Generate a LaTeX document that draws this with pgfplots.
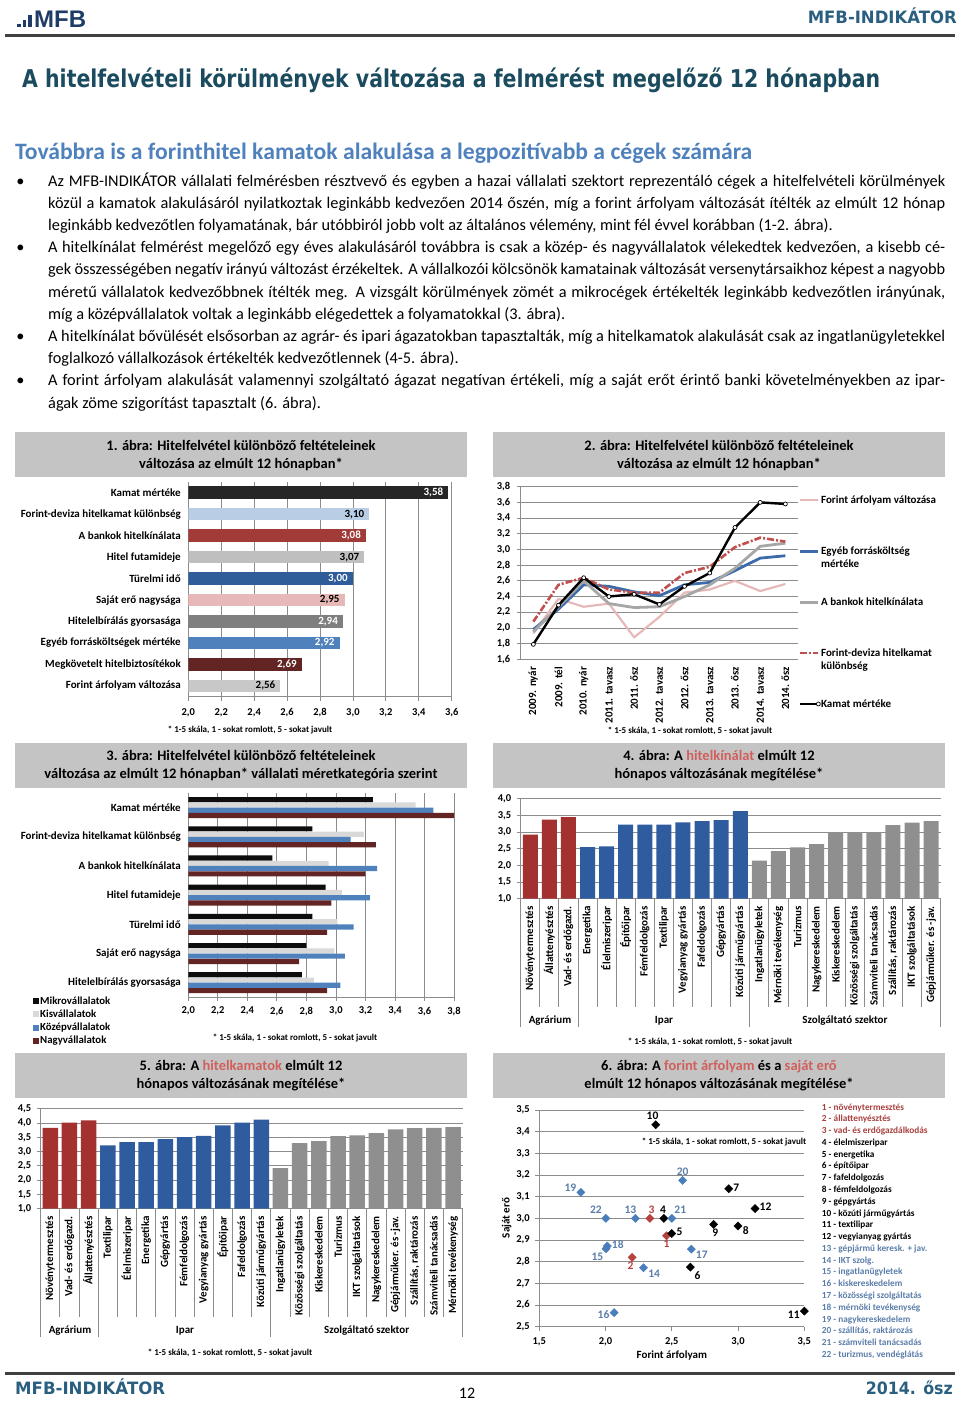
\documentclass[border=0pt]{standalone}
\usepackage{fontspec}
\usepackage{graphicx}
\usepackage{pgfplots}
\usepackage{pgfplotstable}
\pgfplotsset{compat=1.18}
\setmainfont{Carlito}
\newfontfamily\djv{DejaVu Sans}
\newfontfamily\lsans{Liberation Sans}

\definecolor{ttl}{HTML}{1B4B5E}
\definecolor{hdr}{HTML}{2A5F80}
\definecolor{logo}{HTML}{1F3C66}
\definecolor{sub}{HTML}{4F81BD}
\definecolor{boxg}{HTML}{C4C4C4}
\definecolor{hl}{HTML}{D0605D}
\definecolor{gridg}{HTML}{8C8C8C}
\definecolor{axg}{HTML}{8C8C8C}
\definecolor{cA}{HTML}{262626}
\definecolor{cB}{HTML}{B9CDE5}
\definecolor{cC}{HTML}{A03B38}
\definecolor{cD}{HTML}{BFBFBF}
\definecolor{cE}{HTML}{2F5D9A}
\definecolor{cF}{HTML}{E6B9B8}
\definecolor{cG}{HTML}{7F7F7F}
\definecolor{cH}{HTML}{4F81BD}
\definecolor{cI}{HTML}{632523}
\definecolor{cJ}{HTML}{C8C8C8}
\definecolor{agr}{HTML}{A3312F}
\definecolor{ipr}{HTML}{2E5C9E}
\definecolor{szg}{HTML}{8F8F8F}
\definecolor{kis}{HTML}{D9D9D9}
\definecolor{lred}{HTML}{C0504D}
\definecolor{lblue}{HTML}{3B6BAA}
\definecolor{lgray}{HTML}{A6A6A6}
\definecolor{sred}{HTML}{B5423F}
\definecolor{sblue}{HTML}{4A7EBB}
\definecolor{sbluet}{HTML}{5B7DAA}
\definecolor{lred2}{HTML}{A8403D}

\newcommand\fTick{\bfseries\fontsize{10.5}{12}\selectfont}
\newcommand\fCat{\bfseries\fontsize{11}{13}\selectfont}
\newcommand\fFoot{\bfseries\fontsize{9}{11}\selectfont}
\newcommand\fBox{\bfseries\fontsize{14.5}{17.3}\selectfont}
\newcommand\fPt{\bfseries\fontsize{11.5}{13}\selectfont}
\newcommand\fLeg{\bfseries\fontsize{9.3}{11}\selectfont}
\newcommand\fBody{\fontsize{16.3}{22.2}\selectfont}
\newcommand\jline[2]{\node[anchor=base west,inner sep=0] at (48,-#1) {\fBody\makebox[897pt][s]{#2}};}
\newcommand\lline[2]{\node[anchor=base west,inner sep=0] at (48,-#1) {\fBody #2};}
\newcommand\bull[1]{\node[anchor=base,inner sep=0] at (20.5,-#1) {\fBody\textbullet};}
\newcommand\legtxt[1]{\rule[-3pt]{0pt}{11pt}\smash{\parbox[t]{140pt}{\raggedright #1}}}
\newcommand\fnote{* 1-5 skála, 1 - sokat romlott, 5 - sokat javult}

\pgfplotsset{
  base/.style={
    scale only axis,
    axis lines*=left,
    axis line style={draw=axg, line width=0.8pt},
    tick style={draw=axg, line width=0.8pt},
    major grid style={draw=gridg, line width=0.8pt},
    ticklabel style={font=\fTick},
    tick align=outside,
    major tick length=4pt,
    /pgf/number format/use comma,
    /pgf/number format/fixed,
    /pgf/number format/fixed zerofill,
    /pgf/number format/precision=1,
    /pgf/number format/assume math mode=true,
  },
  wl/.style={every node near coord/.append style={text=white}},
  lineleg/.style={legend image code/.code={\draw[##1] (0pt,0pt) -- (18pt,0pt);}},
  markleg/.style={legend image code/.code={\draw[##1,mark repeat=3,mark phase=3] plot coordinates {(0pt,0pt) (9pt,0pt) (18pt,0pt)};}},
  sqleg/.style={legend image code/.code={\draw[##1,draw=none] (0pt,-3pt) rectangle (6pt,3pt);}},
}

\begin{document}
\begin{tikzpicture}[x=1pt,y=1pt]
\path[use as bounding box] (0,0) rectangle (960,-1401);

% ---------- header ----------
\fill[logo] (17,-27) rectangle (20.5,-23.5);
\fill[logo] (22.5,-27) rectangle (26,-20);
\fill[logo] (28,-27) rectangle (31.5,-15);
\node[anchor=base west,inner sep=0,text=logo] at (34,-27) {\lsans\bfseries\fontsize{24}{26}\selectfont MFB};
\node[anchor=base east,inner sep=0,text=hdr] at (957,-23) {\resizebox{149pt}{\height}{\djv\bfseries\fontsize{17}{20}\selectfont MFB-INDIKÁTOR}};
\fill[black!75] (5,-33.5) rectangle (955,-36.5);

\node[anchor=base west,inner sep=0,text=ttl] at (22,-87) {\resizebox{858pt}{\height}{\djv\bfseries\fontsize{24.5}{28}\selectfont A hitelfelvételi körülmények változása a felmérést megelőző 12 hónapban}};
\node[anchor=base west,inner sep=0,text=sub] at (15,-159) {\resizebox{737pt}{\height}{\bfseries\fontsize{23.5}{27}\selectfont Továbbra is a forinthitel kamatok alakulása a legpozitívabb a cégek számára}};

% ---------- body ----------
\bull{186}
\jline{186}{Az MFB-INDIKÁTOR vállalati felmérésben résztvevő és egyben a hazai vállalati szektort reprezentáló cégek a hitelfelvételi körülmények}
\jline{208.2}{közül a kamatok alakulásáról nyilatkoztak leginkább kedvezően 2014 őszén, míg a forint árfolyam változását ítélték az elmúlt 12 hónap}
\lline{230.4}{leginkább kedvezőtlen folyamatának, bár utóbbiról jobb volt az általános vélemény, mint fél évvel korábban (1-2. ábra).}
\bull{252.6}
\jline{252.6}{A hitelkínálat felmérést megelőző egy éves alakulásáról továbbra is csak a közép- és nagyvállalatok vélekedtek kedvezően, a kisebb cé-}
\jline{274.8}{gek összességében negatív irányú változást érzékeltek. A vállalkozói kölcsönök kamatainak változását versenytársaikhoz képest a nagyobb}
\jline{297}{méretű vállalatok kedvezőbbnek ítélték meg. A vizsgált körülmények zömét a mikrocégek értékelték leginkább kedvezőtlen irányúnak,}
\lline{319.2}{míg a középvállalatok voltak a leginkább elégedettek a folyamatokkal (3. ábra).}
\bull{341.4}
\jline{341.4}{A hitelkínálat bővülését elsősorban az agrár- és ipari ágazatokban tapasztalták, míg a hitelkamatok alakulását csak az ingatlanügyletekkel}
\lline{363.6}{foglalkozó vállalkozások értékelték kedvezőtlennek (4-5. ábra).}
\bull{385.8}
\jline{385.8}{A forint árfolyam alakulását valamennyi szolgáltató ágazat negatívan értékeli, míg a saját erőt érintő banki követelményekben az ipar-}
\lline{408}{ágak zöme szigorítást tapasztalt (6. ábra).}

% ---------- title boxes ----------
\fill[boxg] (15,-431.7) rectangle (466.7,-476.7);
\node[align=center,font=\fBox] at (241,-455.5) {1. ábra: Hitelfelvétel különböző feltételeinek\\változása az elmúlt 12 hónapban*};
\fill[boxg] (492.7,-431.7) rectangle (945,-476.7);
\node[align=center,font=\fBox] at (719,-455.5) {2. ábra: Hitelfelvétel különböző feltételeinek\\változása az elmúlt 12 hónapban*};
\fill[boxg] (15,-742.5) rectangle (466.7,-787.5);
\node[align=center,font=\fBox] at (241,-765.5) {3. ábra: Hitelfelvétel különböző feltételeinek\\változása az elmúlt 12 hónapban* vállalati méretkategória szerint};
\fill[boxg] (492.7,-742.5) rectangle (945,-787.5);
\node[align=center,font=\fBox] at (719,-765.5) {4. ábra: A \textcolor{hl}{hitelkínálat} elmúlt 12\\hónapos változásának megítélése*};
\fill[boxg] (15,-1052.5) rectangle (466.7,-1097.5);
\node[align=center,font=\fBox] at (241,-1075.5) {5. ábra: A \textcolor{hl}{hitelkamatok} elmúlt 12\\hónapos változásának megítélése*};
\fill[boxg] (492.7,-1052.5) rectangle (945,-1097.5);
\node[align=center,font=\fBox] at (719,-1075.5) {6. ábra: A \textcolor{hl}{forint árfolyam} és a \textcolor{hl}{saját erő}\\elmúlt 12 hónapos változásának megítélése*};

% ---------- chart 1 ----------
\begin{axis}[base, at={(188.3pt,-696.7pt)}, anchor=south west, width=263.4pt, height=214.7pt,
  xmin=2, xmax=3.6, xtick={2,2.2,2.4,2.6,2.8,3,3.2,3.4,3.6}, xmajorgrids,
  xticklabel style={yshift=-4pt},
  ymin=-0.5, ymax=9.5, ytick={0,...,9},
  yticklabels={Forint árfolyam változása, Megkövetelt hitelbiztosítékok, Egyéb forrásköltségek mértéke, Hitelelbírálás gyorsasága, Saját erő nagysága, Türelmi idő, Hitel futamideje, A bankok hitelkínálata, Forint-deviza hitelkamat különbség, Kamat mértéke},
  yticklabel style={font=\fCat},
  major y tick style={draw=none},
  xbar, bar width=12.5pt, bar shift=0pt,
  point meta=x,
  nodes near coords={\pgfmathprintnumber[fixed,fixed zerofill,precision=2,use comma]{\pgfplotspointmeta}},
  every node near coord/.append style={anchor=east, font=\fCat, inner sep=1pt, xshift=-4pt, text=black},
]
\addplot[fill=cA, draw=none, wl] coordinates {(3.58,9)};
\addplot[fill=cB, draw=none] coordinates {(3.10,8)};
\addplot[fill=cC, draw=none, wl] coordinates {(3.08,7)};
\addplot[fill=cD, draw=none] coordinates {(3.07,6)};
\addplot[fill=cE, draw=none, wl] coordinates {(3.00,5)};
\addplot[fill=cF, draw=none] coordinates {(2.95,4)};
\addplot[fill=cG, draw=none, wl] coordinates {(2.94,3)};
\addplot[fill=cH, draw=none, wl] coordinates {(2.92,2)};
\addplot[fill=cI, draw=none, wl] coordinates {(2.69,1)};
\addplot[fill=cJ, draw=none] coordinates {(2.56,0)};
\end{axis}
\node[font=\fFoot] at (250,-730) {\fnote};

% ---------- chart 2 ----------
\begin{axis}[base, at={(520.7pt,-659.3pt)}, anchor=south west, width=277.3pt, height=172.6pt,
  xmin=-0.5, xmax=10.5, ymin=1.6, ymax=3.8,
  ytick={1.6,1.8,2.0,2.2,2.4,2.6,2.8,3.0,3.2,3.4,3.6,3.8}, ymajorgrids,
  yticklabel style={xshift=-3pt},
  xtick={0,...,10},
  xticklabels={2009. nyár, 2009. tél, 2010. nyár, 2011. tavasz, 2011. ősz, 2012. tavasz, 2012. ősz, 2013. tavasz, 2013. ősz, 2014. tavasz, 2014. ősz},
  xticklabel style={rotate=90, anchor=east, font=\fCat},
  major x tick style={draw=none},
  legend style={at={(axis description cs:1.0036,0.9525)}, anchor=north west, draw=none, fill=none, inner sep=0pt, outer sep=0pt, row sep=40pt, nodes={inner sep=0.7pt}, font=\fCat},
  legend cell align=left,
  lineleg,
]
\addplot[cF, line width=2.2pt, line join=round] coordinates {(0,1.93)(1,2.37)(2,2.27)(3,2.31)(4,1.88)(5,2.14)(6,2.45)(7,2.49)(8,2.60)(9,2.47)(10,2.56)};
\addlegendentry{\legtxt{Forint árfolyam változása}}
\addplot[lblue, line width=2.8pt, line join=round] coordinates {(0,1.98)(1,2.24)(2,2.55)(3,2.53)(4,2.46)(5,2.41)(6,2.55)(7,2.58)(8,2.73)(9,2.89)(10,2.92)};
\addlegendentry{\legtxt{Egyéb forrásköltség\\mértéke}}
\addplot[lgray, line width=2.8pt, line join=round] coordinates {(0,1.95)(1,2.27)(2,2.60)(3,2.31)(4,2.26)(5,2.27)(6,2.40)(7,2.55)(8,2.76)(9,3.04)(10,3.08)};
\addlegendentry{\legtxt{A bankok hitelkínálata}}
\addplot[lred, line width=2.6pt, line join=round, dash pattern=on 7pt off 2pt on 2pt off 2pt] coordinates {(0,2.08)(1,2.55)(2,2.64)(3,2.49)(4,2.45)(5,2.45)(6,2.70)(7,2.78)(8,3.03)(9,3.15)(10,3.10)};
\addlegendentry{\legtxt{Forint-deviza hitelkamat\\különbség}}
\addplot[black, line width=2.4pt, line join=round, mark=*, mark size=2pt, mark options={fill=white, draw=black, line width=0.7pt}, markleg]
  coordinates {(0,1.79)(1,2.29)(2,2.64)(3,2.40)(4,2.43)(5,2.30)(6,2.53)(7,2.70)(8,3.28)(9,3.60)(10,3.58)};
\addlegendentry{\legtxt{Kamat mértéke}}
\end{axis}
\node[font=\fFoot] at (690,-731) {\fnote};

% ---------- chart 3 ----------
\begin{axis}[base, at={(188.3pt,-997.3pt)}, anchor=south west, width=265.7pt, height=204.3pt,
  xmin=2, xmax=3.8, xtick={2,2.2,2.4,2.6,2.8,3,3.2,3.4,3.6,3.8}, xmajorgrids,
  xticklabel style={yshift=-2pt},
  ymin=-0.5, ymax=6.5, ytick={0,...,6},
  yticklabels={Hitelelbírálás gyorsasága, Saját erő nagysága, Türelmi idő, Hitel futamideje, A bankok hitelkínálata, Forint-deviza hitelkamat különbség, Kamat mértéke},
  yticklabel style={font=\fCat},
  major y tick style={draw=none},
  xbar, bar width=5.2pt,
  legend style={at={(axis description cs:-0.5845,0.010)}, anchor=north west, draw=none, fill=none, inner sep=0pt, row sep=2.2pt, nodes={inner sep=1pt}, font=\bfseries\fontsize{10.8}{12}\selectfont},
  legend cell align=left,
  sqleg,
]
\addplot[fill=black!95, draw=none, bar shift=7.9pt] coordinates {(3.25,6)(2.84,5)(2.57,4)(2.93,3)(2.84,2)(2.80,1)(2.77,0)};
\addlegendentry{Mikrovállalatok}
\addplot[fill=kis, draw=none, bar shift=2.6pt] coordinates {(3.54,6)(3.19,5)(2.95,4)(3.04,3)(3.01,2)(2.99,1)(2.85,0)};
\addlegendentry{Kisvállalatok}
\addplot[fill=cH, draw=none, bar shift=-2.6pt] coordinates {(3.66,6)(3.10,5)(3.28,4)(3.23,3)(3.12,2)(3.06,1)(3.03,0)};
\addlegendentry{Középvállalatok}
\addplot[fill=cI, draw=none, bar shift=-7.9pt] coordinates {(3.80,6)(3.27,5)(3.20,4)(2.97,3)(2.94,2)(2.75,1)(2.94,0)};
\addlegendentry{Nagyvállalatok}
\end{axis}
\node[font=\fFoot] at (295,-1038) {\fnote};

% ---------- chart 4 ----------
\begin{axis}[base, at={(520.7pt,-898.7pt)}, anchor=south west, width=420pt, height=100pt,
  xmin=-0.5, xmax=21.5, ymin=1, ymax=4, ytick={1,1.5,2,2.5,3,3.5,4}, ymajorgrids,
  yticklabel style={xshift=-2pt},
  xtick={0,...,21},
  xticklabels={Növénytermesztés, Állattenyésztés, Vad- és erdőgazd., Energetika, Élelmiszeripar, Építőipar, Fémfeldolgozás, Textilipar, Vegyianyag gyártás, Fafeldolgozás, Gépgyártás, Közúti járműgyártás, Ingatlanügyletek, Mérnöki tevékenység, Turizmus, Nagykereskedelem, Kiskereskedelem, Közösségi szolgáltatás, Számviteli tanácsadás, {Szállítás, raktározás}, IKT szolgáltatások, Gépjárműker. és -jav.},
  xticklabel style={rotate=90, anchor=east, font=\fCat},
  major x tick style={draw=none},
  ybar, bar width=15pt, bar shift=0pt,
]
\addplot[fill=agr, draw=none] coordinates {(0,2.92)(1,3.37)(2,3.45)};
\addplot[fill=ipr, draw=none] coordinates {(3,2.55)(4,2.57)(5,3.22)(6,3.22)(7,3.22)(8,3.29)(9,3.33)(10,3.36)(11,3.63)};
\addplot[fill=szg, draw=none] coordinates {(12,2.14)(13,2.43)(14,2.54)(15,2.64)(16,3.00)(17,3.00)(18,3.00)(19,3.21)(20,3.28)(21,3.33)};
\end{axis}
\foreach \k in {1,...,21} {\draw[axg, line width=0.8pt] ({520.7+\k*19.0909},-898.7) -- ++(0,-108);}
\foreach \k in {0,3,12,22} {\draw[axg, line width=0.8pt] ({520.7+\k*19.0909},-898.7) -- ++(0,-128.3);}
\node[font=\fCat] at (550,-1020.7) {Agrárium};
\node[font=\fCat] at (664,-1020.7) {Ipar};
\node[font=\fCat] at (845,-1020.7) {Szolgáltató szektor};
\node[font=\fFoot] at (710,-1041.7) {\fnote};

% ---------- chart 5 ----------
\begin{axis}[base, at={(40.7pt,-1208.7pt)}, anchor=south west, width=422pt, height=100pt,
  xmin=-0.5, xmax=21.5, ymin=1, ymax=4.5, ytick={1,1.5,2,2.5,3,3.5,4,4.5}, ymajorgrids,
  yticklabel style={xshift=-2pt},
  xtick={0,...,21},
  xticklabels={Növénytermesztés, Vad- és erdőgazd., Állattenyésztés, Textilipar, Élelmiszeripar, Energetika, Gépgyártás, Fémfeldolgozás, Vegyianyag gyártás, Építőipar, Fafeldolgozás, Közúti járműgyártás, Ingatlanügyletek, Közösségi szolgáltatás, Kiskereskedelem, Turizmus, IKT szolgáltatások, Nagykereskedelem, Gépjárműker. és -jav., {Szállítás, raktározás}, Számviteli tanácsadás, Mérnöki tevékenység},
  xticklabel style={rotate=90, anchor=east, font=\fCat},
  major x tick style={draw=none},
  ybar, bar width=15.5pt, bar shift=0pt,
]
\addplot[fill=agr, draw=none] coordinates {(0,3.83)(1,4.01)(2,4.09)};
\addplot[fill=ipr, draw=none] coordinates {(3,3.22)(4,3.33)(5,3.33)(6,3.44)(7,3.51)(8,3.55)(9,3.92)(10,4.01)(11,4.12)};
\addplot[fill=szg, draw=none] coordinates {(12,2.42)(13,3.30)(14,3.37)(15,3.54)(16,3.57)(17,3.65)(18,3.78)(19,3.82)(20,3.83)(21,3.86)};
\end{axis}
\foreach \k in {1,...,21} {\draw[axg, line width=0.8pt] ({40.7+\k*19.1818},-1208.7) -- ++(0,-108);}
\foreach \k in {0,3,12,22} {\draw[axg, line width=0.8pt] ({40.7+\k*19.1818},-1208.7) -- ++(0,-128.6);}
\node[font=\fCat] at (70,-1330.7) {Agrárium};
\node[font=\fCat] at (185,-1330.7) {Ipar};
\node[font=\fCat] at (366.7,-1330.7) {Szolgáltató szektor};
\node[font=\fFoot] at (230,-1352.7) {\fnote};

% ---------- chart 6 ----------
\begin{axis}[base, at={(539.3pt,-1326.7pt)}, anchor=south west, width=265pt, height=216.7pt,
  clip=false,
  xmin=1.5, xmax=3.5, xtick={1.5,2,2.5,3,3.5},
  xticklabel style={yshift=-3pt},
  ymin=2.5, ymax=3.5, ytick={2.5,2.6,2.7,2.8,2.9,3.0,3.1,3.2,3.3,3.4,3.5}, ymajorgrids,
  yticklabel style={xshift=-2pt},
  xlabel={Forint árfolyam}, ylabel={Saját erő},
  xlabel style={font=\fCat, at={(axis description cs:0.5,-0.131)}, anchor=center},
  ylabel style={font=\fCat, at={(axis description cs:-0.123,0.502)}, anchor=center},
]
\addplot[only marks, mark=square*, mark size=2.9pt, mark options={rotate=45, fill=sred, draw=sred},
  nodes near coords, point meta=explicit symbolic,
  visualization depends on={value \thisrow{anc}\as\myanc},
  every node near coord/.append style={anchor=\myanc, font=\fPt, inner sep=4.5pt, text=sred}]
  table[meta=lab] {
x y lab anc
2.46 2.92 1 90
2.20 2.82 2 80
2.335 3.00 3 260
};
\addplot[only marks, mark=square*, mark size=2.9pt, mark options={rotate=45, fill=black, draw=black},
  nodes near coords, point meta=explicit symbolic,
  visualization depends on={value \thisrow{anc}\as\myanc},
  every node near coord/.append style={anchor=\myanc, font=\fPt, inner sep=4.5pt, text=black}]
  table[meta=lab] {
x y lab anc
2.44 3.00 4 275
2.50 2.93 5 190
2.64 2.775 6 130
2.93 3.137 7 190
3.00 2.965 8 150
2.816 2.972 9 100
2.378 3.432 10 290
3.50 2.572 11 20
3.128 3.045 12 190
};
\addplot[only marks, mark=square*, mark size=2.9pt, mark options={rotate=45, fill=sblue, draw=sblue},
  nodes near coords, point meta=explicit symbolic,
  visualization depends on={value \thisrow{anc}\as\myanc},
  every node near coord/.append style={anchor=\myanc, font=\fPt, inner sep=4.5pt, text=sbluet}]
  table[meta=lab] {
x y lab anc
2.225 3.00 13 300
2.287 2.772 14 150
2.003 2.86 15 45
2.064 2.565 16 10
2.647 2.858 17 150
2.013 2.872 18 190
1.814 3.12 19 335
2.582 3.175 20 270
2.50 3.00 21 225
2.003 3.00 22 320
};
\end{axis}
\node[font=\fFoot] at (724,-1142) {\fnote};
\foreach \t [count=\i from 0] in {1 - növénytermesztés, 2 - állattenyésztés, 3 - vad- és erdőgazdálkodás, 4 - élelmiszeripar, 5 - energetika, 6 - építőipar, 7 - fafeldolgozás, 8 - fémfeldolgozás, 9 - gépgyártás, 10 - közúti járműgyártás, 11 - textilipar, 12 - vegyianyag gyártás, 13 - gépjármű keresk. + jav., 14 - IKT szolg., 15 - ingatlanügyletek, 16 - kiskereskedelem, 17 - közösségi szolgáltatás, 18 - mérnöki tevékenység, 19 - nagykereskedelem, {20 - szállítás, raktározás}, 21 - számviteli tanácsadás, {22 - turizmus, vendéglátás}} {
  \ifnum\i<3 \def\cc{lred2}\else\ifnum\i<12 \def\cc{black}\else\def\cc{sbluet}\fi\fi
  \node[anchor=base west, inner sep=0, font=\fLeg, text=\cc] at (821.7,{-1110-11.78*\i}) {\t};
}

% ---------- footer ----------
\fill[black!75] (5,-1372) rectangle (955,-1375);
\node[anchor=base west,inner sep=0,text=hdr] at (15,-1394) {\resizebox{150pt}{\height}{\djv\bfseries\fontsize{17}{20}\selectfont MFB-INDIKÁTOR}};
\node[anchor=base,inner sep=0] at (467,-1398) {\fontsize{16}{18}\selectfont 12};
\node[anchor=base east,inner sep=0,text=hdr] at (953,-1394) {\resizebox{87pt}{\height}{\djv\bfseries\fontsize{17}{20}\selectfont 2014. ősz}};
\end{tikzpicture}
\end{document}
